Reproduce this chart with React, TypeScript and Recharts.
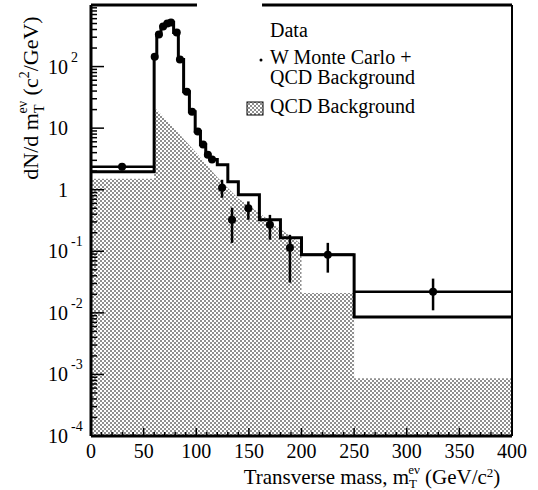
import React from 'react';
import { ComposedChart, Area, Line, Scatter, ErrorBar, XAxis, YAxis, ReferenceLine, Legend } from 'recharts';

// W Monte Carlo + QCD background histogram, bin edges in GeV/c^2
const histEdges = [0, 60, 62.5, 66.5, 70.5, 74, 78.5, 83, 88, 93.5, 99, 104, 109, 113, 120, 130, 140, 160, 180, 200, 250, 400];
const histValues = [1.96, 145, 331, 447, 501, 519, 357, 130, 39, 18.5, 8.8, 5.4, 3.7, 3.1, 2.55, 1.35, 0.83, 0.325, 0.166, 0.088, 0.0086];

// QCD background outline (shaded)
const qcdMass = [0, 60, 60, 80, 100, 120, 140, 160, 180, 200, 200, 250, 250, 400];
const qcdValue = [1.5, 1.5, 22, 9.5, 4, 1.6, 0.72, 0.42, 0.23, 0.13, 0.021, 0.021, 0.00087, 0.00087];

// data points
const dataMass = [29.5, 60.5, 64.5, 68.5, 72.5, 76, 81.5, 84.5, 91, 96, 101.5, 106.5, 111, 115, 124.5, 134, 149.5, 170, 189, 225, 325];
const dataValue = [2.37, 145, 331, 447, 501, 519, 357, 130, 39, 18.5, 8.8, 5.4, 3.7, 3.1, 1.08, 0.325, 0.5, 0.27, 0.114, 0.088, 0.022];
const dataLow = [2.37, 145, 331, 447, 501, 519, 357, 130, 39, 18.5, 8.8, 5.4, 3.7, 3.1, 0.74, 0.137, 0.325, 0.154, 0.031, 0.045, 0.011];
const dataHigh = [2.37, 145, 331, 447, 501, 519, 357, 130, 39, 18.5, 8.8, 5.4, 3.7, 3.1, 1.45, 0.51, 0.645, 0.39, 0.185, 0.137, 0.036];
const dataBinLo = [0, 60.5, 64.5, 68.5, 72.5, 76, 81.5, 84.5, 91, 96, 101.5, 106.5, 111, 115, 124.5, 134, 149.5, 170, 189, 200, 250];
const dataBinHi = [60, 60.5, 64.5, 68.5, 72.5, 76, 81.5, 84.5, 91, 96, 101.5, 106.5, 111, 115, 124.5, 134, 149.5, 170, 189, 250, 400];

const xTicks: number[] = [];
for (let v = 0; v <= 400; v += 10) xTicks.push(v);
const yTicks: number[] = [];
for (let d = -4; d <= 2; d++) for (let m = 1; m <= 9; m++) yTicks.push(m * Math.pow(10, d));
yTicks.push(1000);

const histData: { x: number; h: number }[] = [];
histValues.forEach((v, i) => {
  histData.push({ x: histEdges[i], h: v });
  histData.push({ x: histEdges[i + 1], h: v });
});
const qcdData = qcdMass.map((x, i) => ({ x, q: qcdValue[i] }));
const pointData = dataMass.map((x, i) => ({
  x,
  v: dataValue[i],
  ey: [dataValue[i] - dataLow[i], dataHigh[i] - dataValue[i]],
  ex: [x - dataBinLo[i], dataBinHi[i] - x],
}));

const font = '"Liberation Serif", "DejaVu Serif", serif';

const Dots = ({ id }: { id: string }) => (
  <pattern id={id} width={4} height={4} patternUnits="userSpaceOnUse">
    <circle cx={1} cy={1} r={0.8} fill="#000" />
    <circle cx={3} cy={3} r={0.8} fill="#000" />
  </pattern>
);

const YTick = (props: any) => {
  const { x, y, payload } = props;
  const lg = Math.log10(payload.value);
  const e = Math.round(lg);
  const major = Math.abs(lg - e) < 1e-6;
  return (
    <g>
      <line x1={x} y1={y} x2={x + (major ? 13 : 6)} y2={y} stroke="#000" strokeWidth={1.5} />
      {major && e < 3 && (
        <g fontFamily={font} fill="#000">
          <text x={x - 23} y={y + 7} textAnchor="end" fontSize={20}>{e === 0 ? '1' : '10'}</text>
          {e !== 0 && e !== 1 && (
            <text x={x - 20} y={y - 5} fontSize={14}>{String(e)}</text>
          )}
        </g>
      )}
    </g>
  );
};

const XTick = (props: any) => {
  const { x, y, payload } = props;
  const major = payload.value % 50 === 0;
  return (
    <g>
      <line x1={x} y1={y} x2={x} y2={y - (major ? 8 : 4)} stroke="#000" strokeWidth={1.5} />
      {major && (
        <text x={x} y={y + 22} textAnchor="middle" fontSize={20} fontFamily={font} fill="#000">
          {payload.value}
        </text>
      )}
    </g>
  );
};

const YTitle = () => (
  <text transform="translate(38,98) rotate(-90)" textAnchor="middle" fontSize={22} fontFamily={font} fill="#000">
    dN/d m
    <tspan fontSize={14} dy={6}>T</tspan>
    <tspan fontSize={14} dx={-8} dy={-17}>eν</tspan>
    <tspan dy={11}> (c</tspan>
    <tspan fontSize={14} dy={-9}>2</tspan>
    <tspan dy={9}>/GeV)</tspan>
  </text>
);

const XTitle = () => (
  <text x={372} y={484} textAnchor="middle" fontSize={21} fontFamily={font} fill="#000">
    Transverse mass, m
    <tspan fontSize={13} dy={4}>T</tspan>
    <tspan fontSize={13} dx={-8} dy={-14}>eν</tspan>
    <tspan dy={10}> (GeV/c</tspan>
    <tspan fontSize={13} dy={-7}>2</tspan>
    <tspan dy={7}>)</tspan>
  </text>
);

const LegendBox = () => (
  <svg width={280} height={110} style={{ fontFamily: font }}>
    <defs>
      <Dots id="qcdLegend" />
    </defs>
    <text x={30} y={22} fontSize={20} fill="#000">Data</text>
    <circle cx={21} cy={45} r={1.5} fill="#000" />
    <text x={30} y={49} fontSize={20} fill="#000">W Monte Carlo +</text>
    <text x={30} y={69} fontSize={20} fill="#000">QCD Background</text>
    <rect x={7} y={87} width={16} height={13} fill="url(#qcdLegend)" stroke="#000" strokeWidth={1} />
    <text x={30} y={98} fontSize={20} fill="#000">QCD Background</text>
  </svg>
);

export default function App() {
  return (
    <div style={{ position: 'absolute', left: 0, top: 0, background: '#fff', fontFamily: font }}>
      <ComposedChart width={538} height={490} margin={{ top: 5, right: 26, bottom: 0, left: 0 }}>
        <defs>
          <Dots id="qcdFill" />
        </defs>
        <XAxis
          type="number"
          dataKey="x"
          domain={[0, 400]}
          ticks={xTicks}
          interval={0}
          allowDataOverflow
          height={54}
          tickSize={0}
          tickMargin={0}
          tickLine={false}
          tick={<XTick />}
          axisLine={{ stroke: '#000', strokeWidth: 3 }}
          label={{ content: () => <XTitle /> }}
        />
        <YAxis
          type="number"
          scale="log"
          domain={[0.0001, 1000]}
          ticks={yTicks}
          interval={0}
          allowDataOverflow
          width={91}
          tickSize={0}
          tickMargin={0}
          tickLine={false}
          tick={<YTick />}
          axisLine={{ stroke: '#000', strokeWidth: 3 }}
          label={{ content: () => <YTitle /> }}
        />
        <Area
          data={qcdData}
          dataKey="q"
          type="linear"
          baseValue={0.0001}
          fill="url(#qcdFill)"
          fillOpacity={1}
          stroke="none"
          isAnimationActive={false}
        />
        <Line data={histData} dataKey="h" type="linear" stroke="#000" strokeWidth={3} dot={false} isAnimationActive={false} />
        <Scatter
          data={pointData}
          dataKey="v"
          isAnimationActive={false}
          shape={(p: any) => <circle cx={p.cx} cy={p.cy} r={4} fill="#000" />}
        >
          <ErrorBar dataKey="ey" direction="y" width={0} stroke="#000" strokeWidth={2.5} />
          <ErrorBar dataKey="ex" direction="x" width={0} stroke="#000" strokeWidth={2.5} />
        </Scatter>
        <ReferenceLine segment={[{ x: 0, y: 1000 }, { x: 100.7, y: 1000 }]} stroke="#000" strokeWidth={3} ifOverflow="visible" />
        <ReferenceLine segment={[{ x: 162.5, y: 1000 }, { x: 400, y: 1000 }]} stroke="#000" strokeWidth={3} ifOverflow="visible" />
        <ReferenceLine x={400} stroke="#000" strokeWidth={2} ifOverflow="visible" />
        <Legend
          layout="vertical"
          align="center"
          verticalAlign="middle"
          wrapperStyle={{ left: 240, top: 15, width: 280, height: 110 }}
          content={() => <LegendBox />}
        />
      </ComposedChart>
    </div>
  );
}
